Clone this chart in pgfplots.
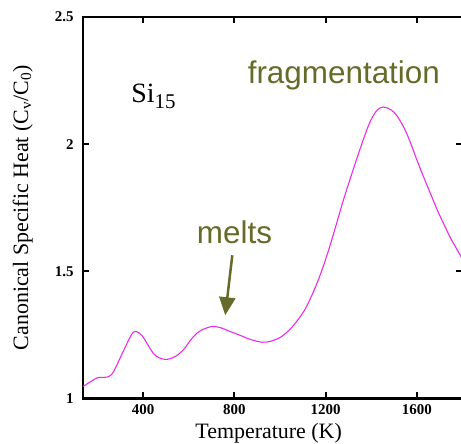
\documentclass[border=0pt]{standalone}
\usepackage{pgfplots}
\pgfplotsset{compat=1.18}
\usepackage{fontspec}
\setmainfont{Liberation Serif}
\newfontfamily\arial{Liberation Sans}
\usetikzlibrary{arrows.meta}
\definecolor{olivetxt}{RGB}{102,107,41}
\definecolor{curvecol}{RGB}{232,45,232}

\pgfplotstableread{
T v
137 1.047
170 1.066
199 1.081
220 1.083
243 1.084
262 1.094
278 1.118
305 1.170
330 1.217
350 1.252
365 1.264
385 1.256
401 1.240
425 1.205
445 1.177
470 1.160
501 1.153
530 1.160
549 1.169
580 1.195
607 1.228
635 1.256
664 1.272
703 1.283
740 1.278
768 1.268
826 1.248
870 1.232
922 1.221
960 1.225
1001 1.240
1035 1.264
1068 1.297
1111 1.352
1155 1.437
1190 1.520
1221 1.606
1250 1.694
1278 1.780
1310 1.870
1339 1.949
1370 2.030
1396 2.090
1425 2.133
1453 2.146
1485 2.136
1514 2.110
1545 2.062
1571 2.008
1600 1.938
1630 1.870
1660 1.805
1689 1.742
1720 1.682
1747 1.632
1775 1.587
1800 1.548
}\datatable

\begin{document}
\begin{tikzpicture}
\begin{axis}[
  scale only axis, width=379bp, height=381bp,
  xmin=137, xmax=1800, ymin=1, ymax=2.5,
  axis line style={line width=2.2pt},
  tick style={line width=2pt, black},
  major tick length=6bp,
  tick align=inside,
  xtick={400,800,1200,1600}, ytick={1,1.5,2,2.5},
  /pgf/number format/assume math mode=true,
  /pgf/number format/1000 sep={},
  ticklabel style={font=\fontsize{15}{15}\selectfont\bfseries},
  xticklabel style={yshift=-3bp},
  yticklabel style={xshift=-6bp},
  xlabel={Temperature (K)},
  ylabel={Canonical Specific Heat (C\textsubscript{v}/C\textsubscript{0})},
  label style={font=\fontsize{22}{22}\selectfont},
  xlabel style={at={(rel axis cs:0.489,-0.106)}, anchor=base, inner sep=0pt},
  ylabel style={at={(rel axis cs:-0.145,0.5)}, anchor=base, rotate=0, inner sep=0pt},
  clip=false,
]
\addplot[curvecol, line width=1.1pt, smooth, tension=0.5] table[x=T,y=v] {\datatable};
\node[anchor=base west, inner sep=0pt, font=\fontsize{28}{28}\selectfont] at (axis cs:348,2.165) {Si\raisebox{-6bp}{\fontsize{21}{21}\selectfont 15}};
\node[anchor=base west, inner sep=0pt, text=olivetxt, font=\arial\fontsize{31.5}{31.5}\selectfont] at (axis cs:858,2.240) {fragmentation};
\node[anchor=base west, inner sep=0pt, text=olivetxt, font=\arial\fontsize{31.5}{31.5}\selectfont] at (axis cs:635,1.610) {melts};
\draw[olivetxt, line width=2.5bp, -{Triangle[width=16bp,length=18bp]}] (axis cs:791,1.563) -- (axis cs:760,1.327);
\coordinate (SW) at (rel axis cs:0,0);
\coordinate (NE) at (rel axis cs:1,1);
\end{axis}
\pgfresetboundingbox
\path[use as bounding box] ([shift={(-83bp,-45bp)}]SW) rectangle ([shift={(-1.5bp,17bp)}]NE);
\end{tikzpicture}
\end{document}
